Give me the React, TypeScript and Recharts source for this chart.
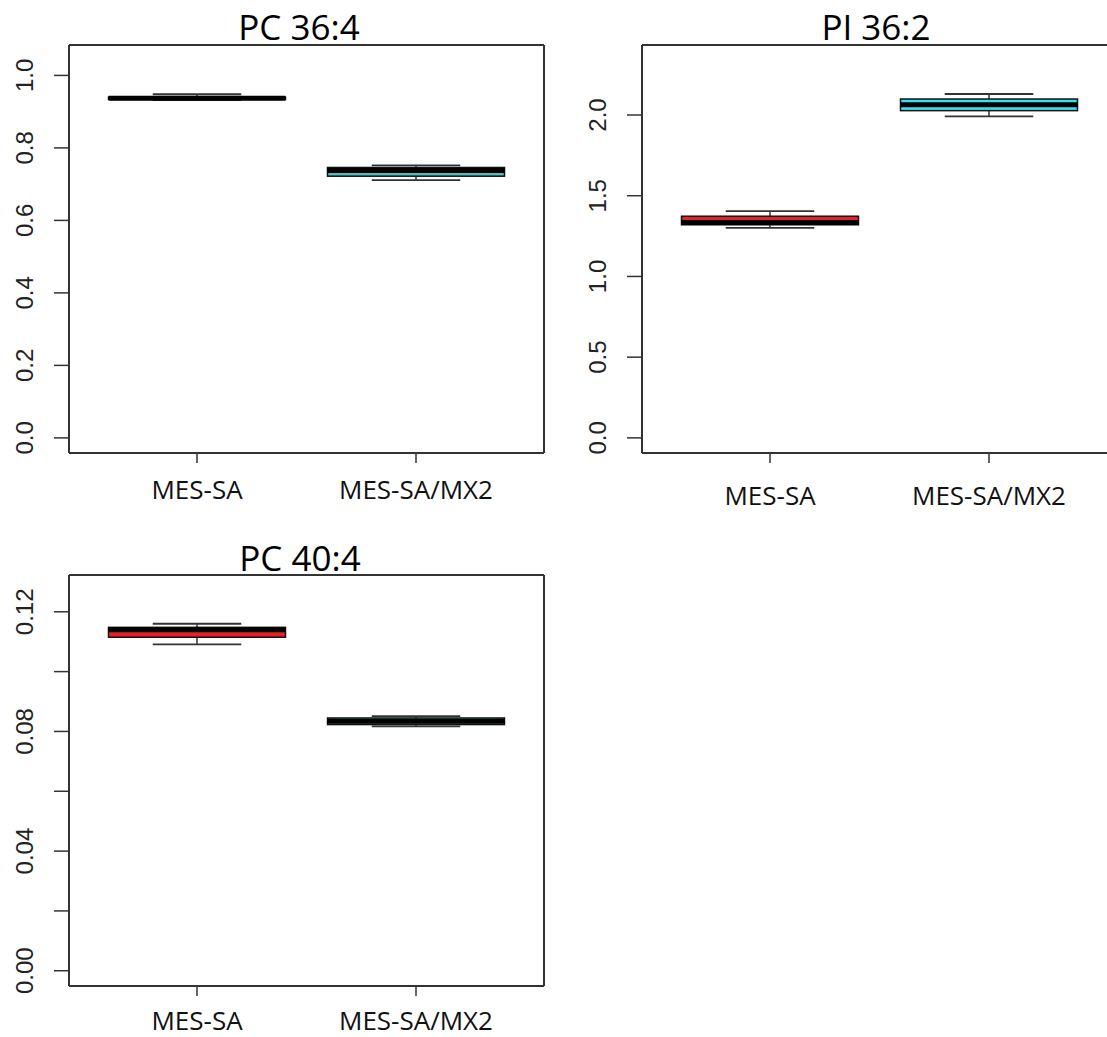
import React from 'react';
import { BarChart, Bar, XAxis, YAxis } from 'recharts';

const groups = ['MES-SA', 'MES-SA/MX2'];

// PC 36:4
const pc364Low = [0.932, 0.711];
const pc364Q1 = [0.934, 0.722];
const pc364Median = [0.937, 0.738];
const pc364Q3 = [0.94, 0.746];
const pc364High = [0.948, 0.752];
const pc364Ticks = [0, 0.2, 0.4, 0.6, 0.8, 1.0];

// PI 36:2
const pi362Low = [1.301, 1.991];
const pi362Q1 = [1.32, 2.027];
const pi362Median = [1.334, 2.064];
const pi362Q3 = [1.373, 2.099];
const pi362High = [1.404, 2.13];
const pi362Ticks = [0, 0.5, 1.0, 1.5, 2.0];

// PC 40:4
const pc404Low = [0.1091, 0.0817];
const pc404Q1 = [0.1115, 0.0823];
const pc404Median = [0.114, 0.0834];
const pc404Q3 = [0.1148, 0.0845];
const pc404High = [0.116, 0.0851];
const pc404Ticks = [0, 0.02, 0.04, 0.06, 0.08, 0.1, 0.12];

const buildRows = (lo: number[], q1: number[], med: number[], q3: number[], hi: number[], colors: string[]) =>
    groups.map((name, i) => ({ name, lo: lo[i], q1: q1[i], med: med[i], q3: q3[i], hi: hi[i], color: colors[i] }));

const LINE = '#333';
const FRAME = { stroke: LINE, strokeWidth: 2 };

// box + whiskers, drawn inside the range bar (lo..hi) that recharts positions for us
const BoxShape = (props: any) => {
    const { x, y, width, height, payload } = props;
    const { lo, q1, med, q3, hi, color } = payload;
    const toY = (v: number) => y + ((hi - v) / (hi - lo)) * height;
    const cx = x + width / 2;
    const staple = width / 2;
    const yQ1 = toY(q1);
    const yQ3 = toY(q3);
    const yMed = toY(med);
    return (
        <g>
            <line x1={cx} x2={cx} y1={y} y2={yQ3} stroke={LINE} strokeWidth={1.5} />
            <line x1={cx} x2={cx} y1={yQ1} y2={y + height} stroke={LINE} strokeWidth={1.5} />
            <line x1={cx - staple / 2} x2={cx + staple / 2} y1={y} y2={y} stroke={LINE} strokeWidth={1.8} />
            <line x1={cx - staple / 2} x2={cx + staple / 2} y1={y + height} y2={y + height} stroke={LINE} strokeWidth={1.8} />
            <rect x={x} y={yQ3} width={width} height={Math.max(yQ1 - yQ3, 1)} fill={color} stroke="#111" strokeWidth={1.5} />
            <line x1={x} x2={x + width} y1={yMed} y2={yMed} stroke="#000" strokeWidth={5} />
        </g>
    );
};

const YTick = ({ x, y, payload, index, every, digits }: any) => {
    if (index % every !== 0) return null;
    const tx = x - 21;
    return (
        <text x={tx} y={y} transform={`rotate(-90, ${tx}, ${y})`} textAnchor="middle"
            fontFamily="'Liberation Sans', Arial, sans-serif" fontSize={24} fill="#222">
            {Number(payload.value).toFixed(digits)}
        </text>
    );
};

const XTick = ({ x, y, payload, dy }: any) => (
    <text x={x} y={y + dy} textAnchor="middle" fontFamily="'Open Sans', sans-serif" fontSize={26} fill="#111">
        {payload.value}
    </text>
);

function BoxPanel({ rows, domain, ticks, every, digits, height, xAxisHeight, labelDy, rightEdge = true }: any) {
    return (
        <BarChart width={560} height={height} data={rows} margin={{ top: 44, right: 15, left: 0, bottom: 0 }}>
            <XAxis dataKey="name" type="category" padding={{ left: 18.5, right: 18.5 }} height={xAxisHeight}
                axisLine={FRAME} tickLine={{ stroke: LINE, strokeWidth: 1.5 }} tickSize={10} tickMargin={0}
                tick={<XTick dy={labelDy} />} interval={0} />
            <XAxis xAxisId="top" orientation="top" dataKey="name" height={1} axisLine={FRAME}
                tick={false} tickLine={false} />
            <YAxis type="number" domain={domain} ticks={ticks} width={69} allowDataOverflow
                axisLine={FRAME} tickLine={{ stroke: LINE, strokeWidth: 1.5 }} tickSize={15} tickMargin={0}
                tick={<YTick every={every} digits={digits} />} interval={0} />
            <YAxis yAxisId="right" orientation="right" type="number" domain={domain} width={1} allowDataOverflow
                axisLine={rightEdge ? FRAME : false} tick={false} tickLine={false} />
            <Bar dataKey={(d: any) => [d.lo, d.hi]} barSize={177} shape={<BoxShape />} isAnimationActive={false} />
        </BarChart>
    );
}

const titleStyle: React.CSSProperties = {
    position: 'absolute', fontFamily: "'Open Sans', sans-serif", fontSize: 35, color: '#000',
    lineHeight: '35px', transform: 'translateX(-50%)', whiteSpace: 'nowrap',
};

export default function App() {
    const pc364 = buildRows(pc364Low, pc364Q1, pc364Median, pc364Q3, pc364High, ['#e8202a', '#4dbdbd']);
    const pi362 = buildRows(pi362Low, pi362Q1, pi362Median, pi362Q3, pi362High, ['#e8202a', '#35e3ef']);
    const pc404 = buildRows(pc404Low, pc404Q1, pc404Median, pc404Q3, pc404High, ['#e8202a', '#4dbdbd']);

    return (
        <div style={{ position: 'fixed', left: 0, top: 0, width: 1107, height: 1037, overflow: 'hidden', background: '#fff' }}>
            <div style={{ position: 'absolute', left: 0, top: 0, width: 560 }}>
                <BoxPanel rows={pc364} domain={[-0.0417, 1.0839]} ticks={pc364Ticks} every={1} digits={1}
                    height={520} xAxisHeight={67} labelDy={36} />
            </div>
            <div style={{ position: 'absolute', left: 573, top: 0, width: 560 }}>
                <BoxPanel rows={pi362} domain={[-0.0936, 2.4336]} ticks={pi362Ticks} every={1} digits={1}
                    height={520} xAxisHeight={67} labelDy={42} rightEdge={false} />
            </div>
            <div style={{ position: 'absolute', left: 0, top: 530, width: 560 }}>
                <BoxPanel rows={pc404} domain={[-0.0051, 0.1323]} ticks={pc404Ticks} every={2} digits={2}
                    height={507} xAxisHeight={51} labelDy={34} />
            </div>
            <div style={{ ...titleStyle, left: 299, top: 9 }}>PC 36:4</div>
            <div style={{ ...titleStyle, left: 876, top: 9 }}>PI 36:2</div>
            <div style={{ ...titleStyle, left: 300, top: 540 }}>PC 40:4</div>
        </div>
    );
}
